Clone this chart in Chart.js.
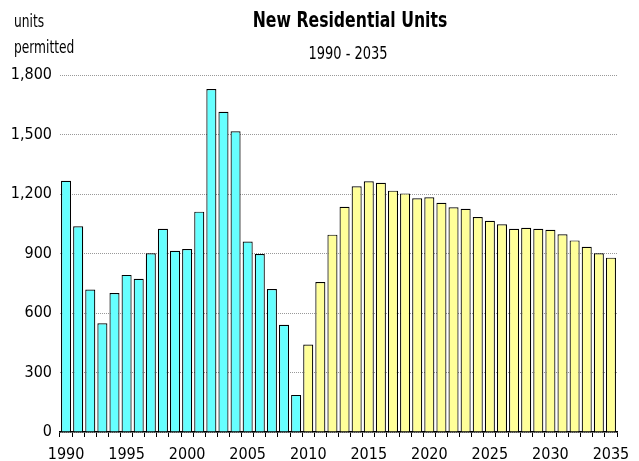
<!DOCTYPE html>
<html>
<head>
<meta charset="utf-8">
<script src="https://cdn.jsdelivr.net/npm/chart.js@4"></script>
<style>
  html, body { margin: 0; padding: 0; background: #fff; }
  #wrap { width: 639px; height: 461px; }
</style>
</head>
<body>
<div id="wrap"><canvas id="c" width="639" height="461"></canvas></div>
<script>
const years = [];
for (let y = 1990; y <= 2035; y++) years.push(y);

const historicalYears = [1990,1991,1992,1993,1994,1995,1996,1997,1998,1999,2000,2001,2002,2003,2004,2005,2006,2007,2008,2009];
const historicalValues = [1267,1037,718,548,701,792,773,901,1025,914,923,1111,1729,1615,1516,960,897,721,541,187];

const projectedYears = [2010,2011,2012,2013,2014,2015,2016,2017,2018,2019,2020,2021,2022,2023,2024,2025,2026,2027,2028,2029,2030,2031,2032,2033,2034,2035];
const projectedValues = [441,756,995,1136,1239,1264,1257,1217,1203,1178,1183,1156,1133,1126,1084,1065,1047,1025,1030,1025,1020,997,966,934,901,879];

const yTicks = [0,300,600,900,1200,1500,1800];

const FONT = "'DejaVu Sans Condensed', 'Liberation Sans', sans-serif";

function mapSeries(srcYears, srcVals) {
  return years.map(y => {
    const i = srcYears.indexOf(y);
    return i >= 0 ? srcVals[i] : null;
  });
}

function narrowText(ctx, text, x, y, font, align, xScale) {
  ctx.save();
  ctx.font = font;
  ctx.textAlign = align;
  ctx.textBaseline = 'alphabetic';
  ctx.translate(x, y);
  ctx.scale(xScale, 1);
  ctx.fillText(text, 0, 0);
  ctx.restore();
}

const textPlugin = {
  id: 'texts',
  afterDraw(chart) {
    const ctx = chart.ctx;
    ctx.save();
    ctx.fillStyle = '#000';
    narrowText(ctx, 'units', 14, 27, "17px " + FONT, 'left', 0.8);
    narrowText(ctx, 'permitted', 14, 53, "17px " + FONT, 'left', 0.8);
    narrowText(ctx, 'New Residential Units', 350, 27, "bold 21px " + FONT, 'center', 0.83);
    narrowText(ctx, '1990 - 2035', 348, 59, "17px " + FONT, 'center', 0.85);
    ctx.restore();
  }
};

new Chart(document.getElementById('c'), {
  type: 'bar',
  data: {
    labels: years,
    datasets: [
      {
        label: 'Historical',
        data: mapSeries(historicalYears, historicalValues),
        backgroundColor: '#66FFFF',
        borderColor: '#000',
        borderWidth: 1.2,
        barPercentage: 0.83,
        categoryPercentage: 1.0
      },
      {
        label: 'Projected',
        data: mapSeries(projectedYears, projectedValues),
        backgroundColor: '#FFFF99',
        borderColor: '#000',
        borderWidth: 1.2,
        barPercentage: 0.83,
        categoryPercentage: 1.0
      }
    ]
  },
  options: {
    responsive: false,
    animation: false,
    layout: { padding: { top: 75, right: 22, left: 0, bottom: 0 } },
    plugins: {
      legend: { display: false },
      title: { display: false },
      tooltip: { enabled: false }
    },
    scales: {
      x: {
        stacked: true,
        offset: true,
        grid: {
          display: true,
          offset: true,
          drawOnChartArea: false,
          drawTicks: true,
          tickLength: 5,
          color: '#000'
        },
        border: { display: true, color: '#000', width: 1.5 },
        ticks: {
          autoSkip: false,
          maxRotation: 0,
          minRotation: 0,
          padding: 8,
          color: '#000',
          font: { family: FONT, size: 16 },
          callback: function(val, idx) {
            const y = years[idx];
            return y % 5 === 0 ? String(y) : '';
          }
        },
        afterFit(scale) { scale.height = 29; }
      },
      y: {
        stacked: false,
        min: 0,
        max: 1800,
        afterBuildTicks(scale) { scale.ticks = yTicks.map(v => ({ value: v })); },
        grid: {
          color: '#999',
          drawTicks: false,
          lineWidth: 1
        },
        border: { display: false, dash: [1, 1] },
        ticks: {
          padding: 8,
          color: '#000',
          font: { family: FONT, size: 16 },
          callback: v => v.toLocaleString('en-US')
        },
        afterFit(scale) { scale.width = 60; }
      }
    }
  },
  plugins: [textPlugin]
});
</script>
</body>
</html>
